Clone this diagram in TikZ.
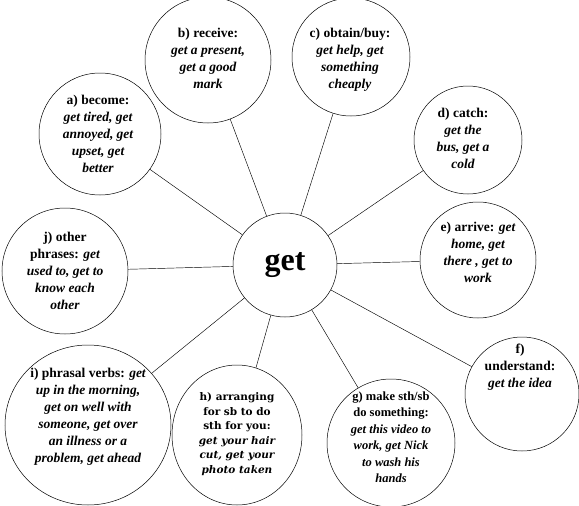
\documentclass[tikz,border=0pt]{standalone}
\usepackage{fontspec}
\setmainfont{Liberation Serif}
\newfontfamily\slabfont{DejaVu Serif}
\usetikzlibrary{shapes.geometric}
\begin{document}
\begin{tikzpicture}[x=1pt,y=-1pt,
  bubble/.style={draw,ellipse,inner sep=0pt,line width=0.5pt},
  hub/.style={draw,circle,inner sep=0pt,minimum size=104pt,line width=0.5pt,font=\bfseries\fontsize{32}{34}\selectfont},
  words/.style={inner sep=0pt,align=center,font=\bfseries\itshape\fontsize{13.5}{17}\selectfont},
  slabwords/.style={inner sep=0pt,align=center,font=\slabfont\bfseries\itshape\fontsize{10.5}{14.5}\selectfont},
  spoke/.style={line width=0.45pt}]
\path[use as bounding box] (0,0) rectangle (579,506);
% centre
\node[hub] (get) at (285,265) {get};
% outer bubbles
\node[bubble,minimum width=122pt,minimum height=122pt] (a) at (100,134) {};
\node[bubble,minimum width=126pt,minimum height=126pt] (b) at (208,60) {};
\node[bubble,minimum width=118pt,minimum height=118pt] (c) at (351,57) {};
\node[bubble,minimum width=108pt,minimum height=108pt] (d) at (468,140) {};
\node[bubble,minimum width=116pt,minimum height=116pt] (e) at (478,260) {};
\node[bubble,minimum width=114pt,minimum height=114pt] (f) at (522,394) {};
\node[bubble,minimum width=128pt,minimum height=128pt] (g) at (391,443) {};
\node[bubble,minimum width=130pt,minimum height=140pt] (h) at (237,435) {};
\node[bubble,minimum width=166pt,minimum height=160pt] (i) at (88,425) {};
\node[bubble,minimum width=126pt,minimum height=126pt] (j) at (65,271) {};
% texts
\node[words] (a-text) at (98,134) {{\upshape a) become:}\\ get tired, get\\ annoyed, get\\ upset, get\\ better};
\node[words] (b-text) at (208,58) {{\upshape b) receive:}\\ get a present,\\ get a good\\ mark};
\node[words] (c-text) at (350,60) {{\upshape c) obtain/buy:}\\ get help, get\\ something\\ cheaply};
\node[words] (d-text) at (463,138) {{\upshape d) catch:}\\ get the\\ bus, get a\\ cold};
\node[words] (e-text) at (478,252) {{\upshape e) arrive:} get\\ home, get\\ there , get to\\ work};
\node[words] (f-text) at (520,367) {{\upshape f)}\\ {\upshape understand:}\\ get the idea};
\node[words,font=\bfseries\itshape\fontsize{12.5}{16.5}\selectfont] (g-text) at (391,437) {{\upshape g) make sth/sb}\\ {\upshape do something:}\\ get this video to\\ work, get Nick\\ to wash his\\ hands};
\node[slabwords] (h-text) at (237,434) {{\upshape h) arranging}\\ {\upshape for sb to do}\\ {\upshape sth for you:}\\ get your hair\\ cut, get your\\ photo taken};
\node[words] (i-text) at (88,417) {{\upshape i) phrasal verbs:} get\\ up in the morning,\\ get on well with\\ someone, get over\\ an illness or a\\ problem, get ahead};
\node[words] (j-text) at (65,271) {{\upshape j) other}\\ {\upshape phrases:} get\\ used to, get to\\ know each\\ other};
% spokes
\foreach \leaf in {a,b,c,d,e,f,g,h,i,j}
  \draw[spoke] (get) -- (\leaf);
\end{tikzpicture}
\end{document}
